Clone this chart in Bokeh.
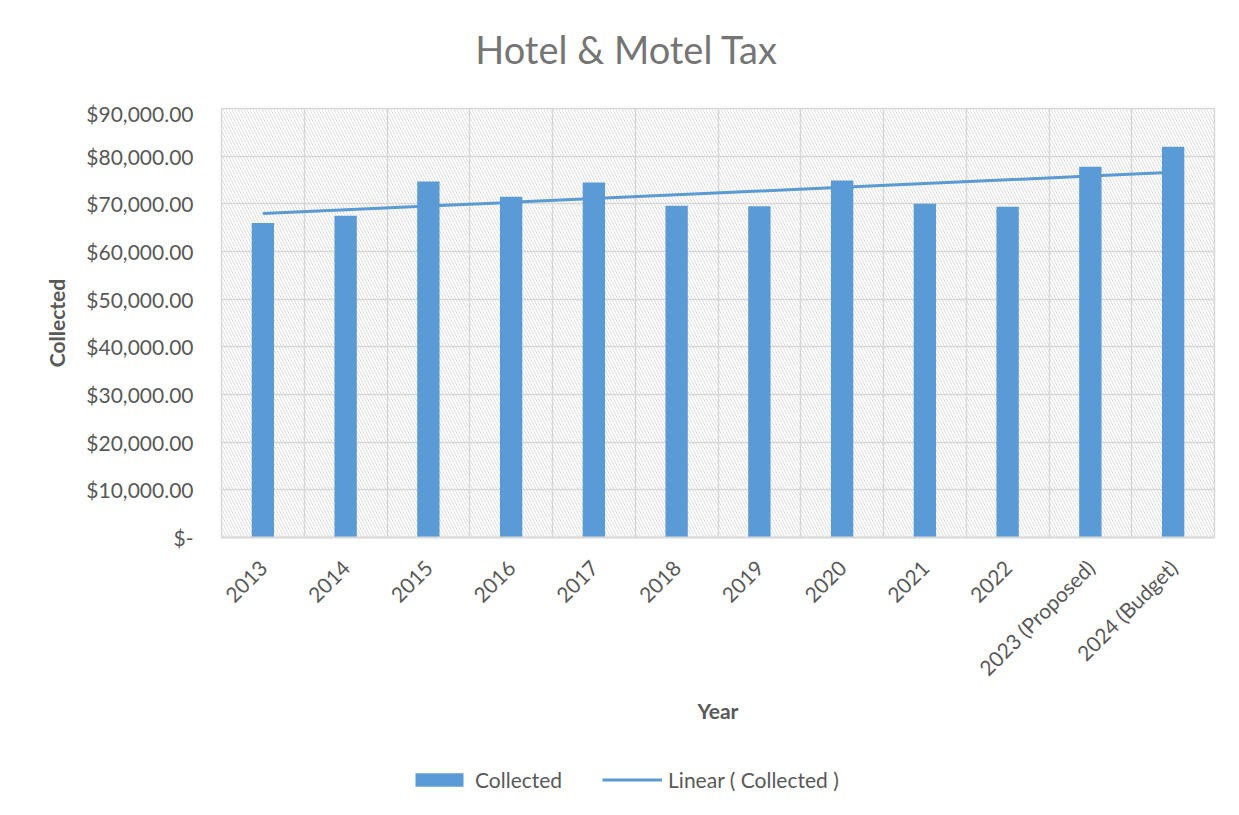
import math
import numpy as np
from bokeh.plotting import figure
from bokeh.layouts import column
from bokeh.models import (Range1d, FactorRange, FixedTicker, CustomJSTickFormatter,
                          BoxAnnotation, Legend, LegendItem, Label)
from bokeh.embed import file_html
from bokeh.resources import INLINE

# ---- data ----
years = ["2013", "2014", "2015", "2016", "2017", "2018", "2019", "2020",
         "2021", "2022", "2023 (Proposed)", "2024 (Budget)"]
collected = [66000, 67500, 74700, 71500, 74500, 69600, 69500, 74900,
             70000, 69400, 77800, 82000]
y_ticks = [0, 10000, 20000, 30000, 40000, 50000, 60000, 70000, 80000, 90000]
title_text = "Hotel & Motel Tax"

# linear trend line (least squares, as Excel's "Linear" trendline)
idx = np.arange(len(collected))
slope, intercept = np.polyfit(idx, collected, 1)
trend = list(intercept + slope * idx)

FONT = "Lato"
TXT = "#595959"
GRID = "#d9d9d9"
BLUE = "#5B9BD5"
W = 1235

# ---- title strip ----
t = figure(width=W, height=100, output_backend="svg", toolbar_location=None,
           x_range=Range1d(0, 1), y_range=Range1d(0, 1),
           x_axis_type=None, y_axis_type=None, min_border=0)
t.outline_line_color = None
t.grid.visible = False
t.add_layout(Label(x=0.408, y=0.52, text=title_text, text_align="center",
                   text_baseline="middle", text_font=FONT, text_font_size="38px",
                   text_color="#757575"))

# ---- main chart ----
p = figure(x_range=FactorRange(*years), y_range=Range1d(0, 90000),
           width=W, height=645, output_backend="svg", toolbar_location=None,
           min_border_left=221, min_border_right=21, min_border_top=8,
           min_border_bottom=208)

p.outline_line_color = GRID
p.outline_line_width = 1.5

# hatched plot area
p.add_layout(BoxAnnotation(fill_alpha=0, line_alpha=0, hatch_pattern="\\",
                           hatch_color="#d2d2d2", hatch_scale=6, hatch_weight=1,
                           hatch_alpha=0.7, level="underlay"))

bars = p.vbar(x=years, top=collected, width=0.27, color=BLUE, line_color=None)
tl = p.line(x=years, y=trend, line_color=BLUE, line_width=3)

# grids
p.ygrid.ticker = FixedTicker(ticks=y_ticks)
p.ygrid.grid_line_color = GRID
p.ygrid.grid_line_width = 1.5
p.xgrid.ticker = FixedTicker(ticks=list(range(len(years) + 1)))
p.xgrid.grid_line_color = GRID
p.xgrid.grid_line_width = 1.5

# y axis
p.yaxis.ticker = FixedTicker(ticks=y_ticks)
p.yaxis.formatter = CustomJSTickFormatter(code="""
    if (tick == 0) { return "$-"; }
    return "$" + tick.toLocaleString('en-US', {minimumFractionDigits: 2, maximumFractionDigits: 2});
""")
p.yaxis.axis_line_color = None
p.yaxis.major_tick_line_color = None
p.yaxis.minor_tick_line_color = None
p.yaxis.major_label_text_font = FONT
p.yaxis.major_label_text_font_size = "21px"
p.yaxis.major_label_text_color = TXT
p.yaxis.major_label_standoff = 22
p.yaxis.axis_label = "Collected"
p.yaxis.axis_label_text_font = FONT
p.yaxis.axis_label_text_font_size = "21px"
p.yaxis.axis_label_text_font_style = "bold"
p.yaxis.axis_label_text_color = TXT
p.yaxis.axis_label_standoff = 14

# x axis
p.xaxis.axis_line_color = GRID
p.xaxis.axis_line_width = 2
p.xaxis.major_tick_line_color = None
p.xaxis.minor_tick_line_color = None
p.xaxis.major_label_orientation = math.pi / 4
p.xaxis.major_label_text_font = FONT
p.xaxis.major_label_text_font_size = "21px"
p.xaxis.major_label_text_color = TXT
p.xaxis.major_label_standoff = 20
p.xaxis.axis_label = "Year"
p.xaxis.axis_label_text_font = FONT
p.xaxis.axis_label_text_font_size = "21px"
p.xaxis.axis_label_text_font_style = "bold"
p.xaxis.axis_label_text_color = TXT
p.xaxis.axis_label_standoff = 6

# ---- legend strip (separate figure so the legend is not clipped) ----
# same series, drawn below this strip's visible y-range: only the legend shows
q = figure(width=W, height=65, output_backend="svg", toolbar_location=None,
           x_range=FactorRange(*years), y_range=Range1d(300000, 400000),
           x_axis_type=None, y_axis_type=None, min_border=0)
q.outline_line_color = None
q.grid.visible = False
lb = q.vbar(x=years, top=collected, width=0.27, color=BLUE, line_color=None)
ll = q.line(x=years, y=trend, line_color=BLUE, line_width=3)
legend = Legend(items=[LegendItem(label="Collected", renderers=[lb]),
                       LegendItem(label="Linear ( Collected )", renderers=[ll])],
                orientation="horizontal", location=(188, 18),
                glyph_width=60, glyph_height=17, label_standoff=6, spacing=40,
                padding=0, margin=0, border_line_color=None,
                background_fill_alpha=0,
                label_text_font=FONT, label_text_font_size="21px",
                label_text_color=TXT)
q.add_layout(legend, "center")

layout = column(t, p, q, spacing=0)
open("out.html", "w").write(file_html(layout, INLINE))
